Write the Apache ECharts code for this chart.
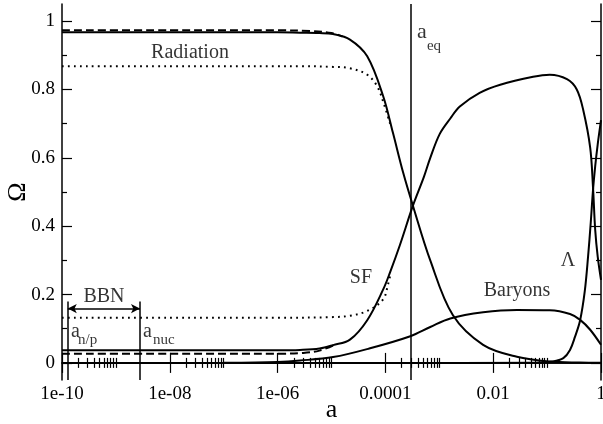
<!DOCTYPE html>
<html><head><meta charset="utf-8">
<script src="https://cdn.jsdelivr.net/npm/echarts@6/dist/echarts.min.js"></script>
<style>html,body{margin:0;padding:0;background:#fff}#c{width:603px;height:424px}</style>
</head><body><div id="c"></div>
<script>
// ---- tick labels ----
const xTickValues = [1e-10, 1e-8, 1e-6, 1e-4, 1e-2, 1];
const xTickLabels = ['1e-10', '1e-08', '1e-06', '0.0001', '0.01', '1'];
const xMinorDecades = [-10, -8, -6, -4, -2];
const yTickValues = [0, 0.2, 0.4, 0.6, 0.8, 1];
const yMinorTicks = [0.1, 0.3, 0.5, 0.7, 0.9];

// ---- series data (a, Omega) ----
const radA   = [1e-10, 1e-8, 1e-6, 2.6e-6, 6e-6, 1.07e-5, 2.2e-5, 4.6e-5, 9.1e-5, 1.38e-4, 2.14e-4, 3.24e-4, 6.8e-4, 1.78e-3, 6.5e-3, 2.75e-2, 0.112, 0.4, 1];
const radOm  = [0.967, 0.967, 0.967, 0.966, 0.965, 0.962, 0.946, 0.897, 0.78, 0.673, 0.556, 0.46, 0.30, 0.14, 0.053, 0.018, 0.004, 0.001, 0.0005];

const sfA    = [1e-10, 1e-8, 1e-6, 2.6e-6, 6e-6, 1.07e-5, 2.2e-5, 4.6e-5, 9.1e-5, 1.22e-4, 1.86e-4, 3.24e-4, 5.2e-4, 6.8e-4, 1.02e-3, 1.6e-3, 2.4e-3, 5.6e-3, 1.35e-2, 5.5e-2, 0.112, 0.234, 0.355, 0.468, 0.63, 0.71, 0.78, 0.87, 1];
const sfOm   = [0.037, 0.037, 0.037, 0.038, 0.042, 0.052, 0.068, 0.125, 0.215, 0.265, 0.345, 0.46, 0.545, 0.60, 0.67, 0.715, 0.75, 0.79, 0.814, 0.837, 0.843, 0.83, 0.80, 0.74, 0.63, 0.515, 0.39, 0.31, 0.243];

const barA   = [1e-10, 1e-8, 1e-7, 1e-6, 2.6e-6, 1.07e-5, 5e-5, 2.9e-4, 6.8e-4, 1.6e-3, 6.5e-3, 2.75e-2, 0.112, 0.266, 0.41, 0.63, 1];
const barOm  = [0, 0, 0.0005, 0.003, 0.007, 0.017, 0.042, 0.078, 0.105, 0.13, 0.148, 0.155, 0.154, 0.143, 0.126, 0.097, 0.053];

const lamA   = [1e-10, 1e-4, 0.063, 0.129, 0.2, 0.266, 0.33, 0.41, 0.5, 0.575, 0.645, 0.71, 0.78, 0.87, 1];
const lamOm  = [0, 0, 0.0005, 0.004, 0.014, 0.038, 0.077, 0.125, 0.21, 0.31, 0.41, 0.505, 0.575, 0.64, 0.71];

const radDashA  = [1e-10, 1e-8, 1e-6, 4e-6, 1e-5, 1.6e-5];
const radDashOm = [0.973, 0.973, 0.973, 0.971, 0.965, 0.955];
const sfDashA   = [1e-10, 1e-8, 1e-6, 3e-6, 6e-6, 1.07e-5];
const sfDashOm  = [0.027, 0.027, 0.027, 0.029, 0.036, 0.051];

const radDotA   = [1e-10, 1e-8, 1e-6, 2.6e-6, 1.07e-5, 2.2e-5, 4.6e-5, 7e-5, 9.5e-5, 1.22e-4];
const radDotOm  = [0.868, 0.868, 0.868, 0.868, 0.866, 0.862, 0.843, 0.81, 0.755, 0.70];
const sfDotA    = [1e-10, 1e-8, 1e-6, 1.07e-5, 2.2e-5, 4.6e-5, 9e-5, 1.12e-4, 1.26e-4];
const sfDotOm   = [0.132, 0.132, 0.132, 0.134, 0.138, 0.152, 0.185, 0.23, 0.265];

// ---- reference marks ----
const aEq = 2.9e-4;
const aNP = 1.28e-10;
const aNuc = 2.8e-9;
const bbnTop = 0.18;
const bbnArrowY = 0.159;

// ---- text annotations (centered) ----
const labelTexts = ['Radiation', 'SF', 'Baryons', 'Λ', 'BBN'];
const labelA     = [2.37e-8, 3.52e-5, 0.0277, 0.244, 6.0e-10];
const labelOm    = [0.908, 0.249, 0.211, 0.30, 0.193];
// ---- symbol labels with subscripts (left-anchored) ----
const symText = ['a', 'a', 'a'];
const symA    = [3.86e-4, 1.47e-10, 3.18e-9];
const symOm   = [0.966, 0.091, 0.091];
const subText = ['eq', 'n/p', 'nuc'];
const subA    = [5.9e-4, 1.98e-10, 4.88e-9];
const subOm   = [0.928, 0.067, 0.067];

const FONT = 'Liberation Serif';
const pairs = (xs, ys) => xs.map((x, i) => [x, ys[i]]);
const minorTicks = [];
xMinorDecades.forEach(e => { for (let k = 2; k <= 10; k++) minorTicks.push(k * Math.pow(10, e)); });

function xAxisDef(pos, ticks, len, labels, line) {
  return {
    type: 'log', logBase: 10, min: 1e-10, max: 1, position: pos, gridIndex: 0,
    axisLine: { show: line, lineStyle: { color: '#000', width: 1.5 } },
    axisTick: { show: true, inside: true, length: len, customValues: ticks, lineStyle: { color: '#000', width: 1.2 } },
    axisLabel: labels ? {
      show: true, customValues: xTickValues, margin: 5, color: '#000', fontFamily: FONT, fontSize: 19,
      formatter: v => xTickLabels[xTickValues.findIndex(t => Math.abs(Math.log10(t) - Math.log10(v)) < 1e-6)]
    } : { show: false },
    splitLine: { show: false }, minorTick: { show: false }
  };
}
function yAxisDef(pos, ticks, len, labels, line) {
  return {
    type: 'value', min: -0.05, max: 1.05, position: pos, gridIndex: 0,
    axisLine: { show: line, lineStyle: { color: '#000', width: 1.5 } },
    axisTick: { show: true, inside: true, length: len, customValues: ticks, lineStyle: { color: '#000', width: 1.2 } },
    axisLabel: labels ? {
      show: true, customValues: yTickValues, margin: 7, color: '#000', fontFamily: FONT, fontSize: 19,
      formatter: v => String(Math.round(v * 10) / 10)
    } : { show: false },
    splitLine: { show: false }
  };
}

const xAxes = [
  xAxisDef('bottom', xTickValues, 10, true, true),
  xAxisDef('bottom', minorTicks, 5, false, false),
  xAxisDef('top', xTickValues, 10, false, true),
  xAxisDef('top', minorTicks, 5, false, false)
];
Object.assign(xAxes[0], {
  name: 'a', nameLocation: 'middle', nameGap: 17, nameMoveOverlap: false,
  nameTextStyle: { fontFamily: FONT, fontSize: 26, color: '#000' }
});
const yAxes = [
  yAxisDef('left', yTickValues, 10, true, true),
  yAxisDef('left', yMinorTicks, 5, false, false),
  yAxisDef('right', yTickValues, 10, false, true),
  yAxisDef('right', yMinorTicks, 5, false, false)
];
Object.assign(yAxes[0], {
  name: 'Ω', nameLocation: 'middle', nameGap: 31, nameRotate: 90, nameMoveOverlap: false,
  nameTextStyle: { fontFamily: FONT, fontSize: 26, color: '#000' }
});

function lineSeries(name, xs, ys, type) {
  return {
    name, type: 'line', xAxisIndex: 0, yAxisIndex: 0, data: pairs(xs, ys),
    showSymbol: false, symbol: 'none', smooth: 0.35, clip: true,
    lineStyle: { color: '#000', width: 2, type: type === 'dashed' ? [8, 4] : type === 'dotted' ? [1.8, 4.2] : 'solid', cap: 'butt' },
    z: 3
  };
}

const annot = labelTexts.map((t, i) => ({ value: [labelA[i], labelOm[i]], label: { formatter: t } }));
symText.forEach((m, i) => annot.push({
  value: [symA[i], symOm[i]],
  label: { position: 'right', distance: 0, formatter: m, fontSize: i === 0 ? 22 : 20 }
}));
subText.forEach((m, i) => annot.push({
  value: [subA[i], subOm[i]],
  label: { position: 'right', distance: 0, formatter: m, fontSize: 15 }
}));

const option = {
  animation: false,
  backgroundColor: '#fff',
  textStyle: { fontFamily: FONT },
  grid: { left: 62, right: 2, top: 4, bottom: 44, containLabel: false, outerBoundsMode: 'none' },
  xAxis: xAxes,
  yAxis: yAxes,
  series: [
    lineSeries('Radiation', radA, radOm, 'solid'),
    lineSeries('SF', sfA, sfOm, 'solid'),
    lineSeries('Baryons', barA, barOm, 'solid'),
    lineSeries('Lambda', lamA, lamOm, 'solid'),
    lineSeries('Radiation (dashed)', radDashA, radDashOm, 'dashed'),
    lineSeries('SF (dashed)', sfDashA, sfDashOm, 'dashed'),
    lineSeries('Radiation (dotted)', radDotA, radDotOm, 'dotted'),
    lineSeries('SF (dotted)', sfDotA, sfDotOm, 'dotted'),
    {
      name: 'annotations', type: 'scatter', xAxisIndex: 0, yAxisIndex: 0,
      symbolSize: 0, data: annot, z: 5, silent: true,
      label: { show: true, position: 'inside', color: '#000', fontFamily: FONT, fontSize: 20 },
      markLine: {
        silent: true, symbol: ['none', 'none'], label: { show: false },
        lineStyle: { color: '#000', width: 1.5, type: 'solid' },
        data: [
          [{ coord: [aEq, -0.05] }, { coord: [aEq, 1.05] }],
          [{ coord: [aNP, -0.05] }, { coord: [aNP, bbnTop] }],
          [{ coord: [aNuc, -0.05] }, { coord: [aNuc, bbnTop] }],
          [{ coord: [aNP, bbnArrowY], symbol: 'arrow', symbolSize: [7, 9] }, { coord: [aNuc, bbnArrowY], symbol: 'arrow', symbolSize: [7, 9] }]
        ]
      }
    }
  ]
};
const chart = echarts.init(document.getElementById('c'), null, { renderer: 'canvas' });
chart.setOption(option);
</script></body></html>
